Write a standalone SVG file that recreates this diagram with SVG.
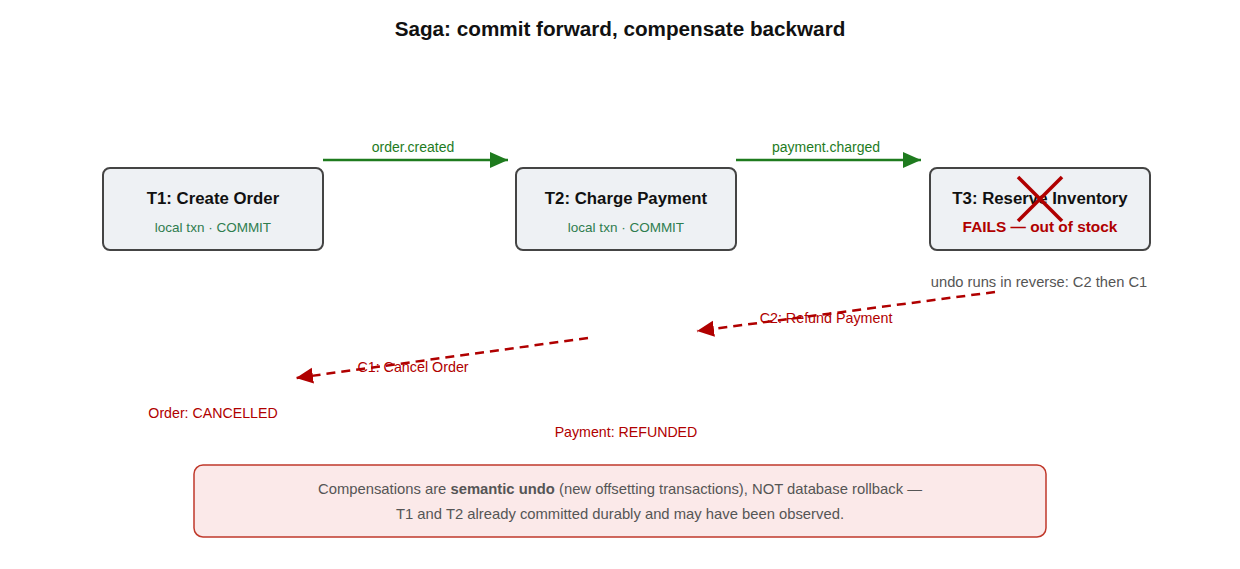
<svg xmlns="http://www.w3.org/2000/svg" width="1240" height="569" viewBox="0 0 1240 569">
<defs>
<style>
text{font-family:"Liberation Sans",Arial,sans-serif}
.title{font-size:20.7px;font-weight:bold;fill:#111;text-anchor:middle}
.box{fill:#eef1f4;stroke:#444;stroke-width:2}
.bt{font-size:16.8px;font-weight:bold;fill:#111;text-anchor:middle}
.ok{font-size:13.5px;fill:#2e7d4f;text-anchor:middle}
.fail{font-size:15.4px;font-weight:bold;fill:#b00000;text-anchor:middle}
.fwd{stroke:#1e7b1e;stroke-width:2.5;fill:none}
.fl{font-size:14px;fill:#1e7b1e;text-anchor:middle}
.back{stroke:#b00000;stroke-width:2.5;fill:none;stroke-dasharray:9 6}
.bl{font-size:14.3px;fill:#b00000;text-anchor:middle}
.note{font-size:14.7px;fill:#555;text-anchor:middle}
.fn{font-size:14.8px;fill:#555;text-anchor:middle}
.st{font-size:14.2px;fill:#b00000;text-anchor:middle}
</style>
<marker id="ag" markerUnits="userSpaceOnUse" markerWidth="20" markerHeight="18" refX="18" refY="8" orient="auto"><path d="M0,0 L18,8 L0,16 Z" fill="#1e7b1e"/></marker>
<marker id="ar" markerUnits="userSpaceOnUse" markerWidth="20" markerHeight="18" refX="17" refY="8" orient="auto"><path d="M0,0 L17,8 L0,16 Z" fill="#b00000"/></marker>
</defs>
<rect width="1240" height="569" fill="#fff"/>
<text class="title" x="620" y="36">Saga: commit forward, compensate backward</text>
<g id="connectors">
<line class="fwd" x1="323" y1="160" x2="508" y2="160" marker-end="url(#ag)"/>
<text class="fl" x="413" y="152">order.created</text>
<line class="fwd" x1="736" y1="160" x2="921" y2="160" marker-end="url(#ag)"/>
<text class="fl" x="826" y="152">payment.charged</text>
<line class="back" x1="995" y1="292" x2="697" y2="331" marker-end="url(#ar)"/>
<text class="bl" x="826" y="323">C2: Refund Payment</text>
<line class="back" x1="588" y1="338" x2="296" y2="378" marker-end="url(#ar)"/>
<text class="bl" x="413" y="372">C1: Cancel Order</text>
</g>
<g id="t1">
<rect class="box" x="103" y="168" width="220" height="82" rx="7"/>
<text class="bt" x="213" y="204">T1: Create Order</text>
<text class="ok" x="213" y="232">local txn · COMMIT</text>
</g>
<g id="t2">
<rect class="box" x="516" y="168" width="220" height="82" rx="7"/>
<text class="bt" x="626" y="204">T2: Charge Payment</text>
<text class="ok" x="626" y="232">local txn · COMMIT</text>
</g>
<g id="t3">
<rect class="box" x="930" y="168" width="220" height="82" rx="7"/>
<text class="bt" x="1040" y="204">T3: Reserve Inventory</text>
<text class="fail" x="1040" y="232">FAILS — out of stock</text>
<line x1="1018" y1="177" x2="1062" y2="221" stroke="#b00000" stroke-width="3.5"/>
<line x1="1062" y1="177" x2="1018" y2="221" stroke="#b00000" stroke-width="3.5"/>
</g>
<g id="undo-note">
<text class="note" x="1039" y="287">undo runs in reverse: C2 then C1</text>
</g>
<g id="order-state">
<text class="st" x="213" y="418">Order: CANCELLED</text>
</g>
<g id="payment-state">
<text class="st" x="626" y="437">Payment: REFUNDED</text>
</g>
<g id="footnote">
<rect x="194" y="465" width="852" height="72" rx="9" fill="#fbe9e9" stroke="#c0392b" stroke-width="1.5"/>
<text class="fn" x="620" y="494">Compensations are <tspan font-weight="bold">semantic undo</tspan> (new offsetting transactions), NOT database rollback —</text>
<text class="fn" x="620" y="519">T1 and T2 already committed durably and may have been observed.</text>
</g>
</svg>
